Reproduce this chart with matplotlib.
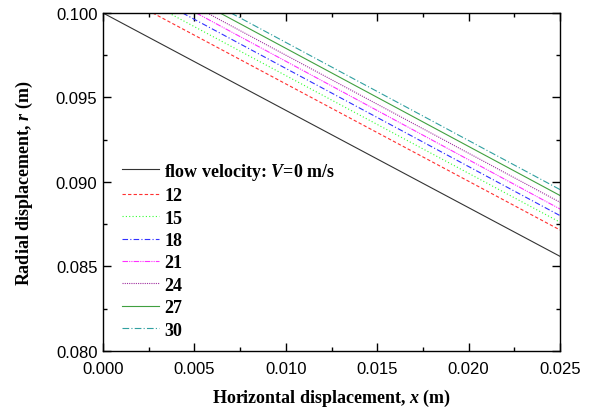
import matplotlib
matplotlib.use("Agg")
import matplotlib.pyplot as plt
from matplotlib.ticker import MultipleLocator

plt.rcParams['mathtext.fontset'] = 'custom'
plt.rcParams['mathtext.it'] = 'Liberation Serif:italic:bold'
plt.rcParams['mathtext.rm'] = 'Liberation Serif:bold'

# flow velocities (m/s)
velocities = [0, 12, 15, 18, 21, 24, 27, 30]
# x (m) where each trajectory starts at r = 0.100
x_start = [0.0, 0.00272, 0.0036, 0.00435, 0.0051, 0.0057, 0.0064, 0.0070]
# r (m) at x = 0.025
r_end = [0.0856, 0.08716, 0.08762, 0.08801, 0.0884, 0.0888, 0.0892, 0.08955]
x_end = 0.025
r_start = 0.100

colors = ['#333333', '#FF3030', '#30FF30', '#3030FF', '#FF30FF', '#A030A0', '#40A040', '#30A0A0']
styles = ['-', (0, (3, 2)), (0, (1, 2)), (0, (5, 2, 1, 2)), (0, (5, 1, 1, 1, 1, 1)),
          (0, (1, 1)), '-', (0, (6, 2, 1, 2))]

fig = plt.figure(figsize=(5.94, 4.10), dpi=100)
ax = fig.add_axes([0.1734, 0.1415, 0.7694, 0.8244])

for i, v in enumerate(velocities):
    if v == 0:
        label = r'flow velocity: $V$=0 m/s'
    else:
        label = str(v)
    ax.plot([x_start[i], x_end], [r_start, r_end[i]], color=colors[i],
            linestyle=styles[i], linewidth=0.8, label=label)

ax.set_xlim(0, 0.025)
ax.set_ylim(0.080, 0.100)
ax.xaxis.set_major_locator(MultipleLocator(0.005))
ax.xaxis.set_minor_locator(MultipleLocator(0.0025))
ax.yaxis.set_major_locator(MultipleLocator(0.005))
ax.yaxis.set_minor_locator(MultipleLocator(0.0025))
ax.xaxis.set_major_formatter(plt.FormatStrFormatter('%.3f'))
ax.yaxis.set_major_formatter(plt.FormatStrFormatter('%.3f'))
ax.tick_params(which='both', direction='in', top=True, right=True, width=1.0)
ax.tick_params(which='major', length=6, labelsize=12)
ax.tick_params(axis='x', which='major', pad=7)
ax.tick_params(axis='y', which='major', pad=4)
ax.tick_params(which='minor', length=3)
for lab in ax.get_xticklabels() + ax.get_yticklabels():
    lab.set_family('Liberation Sans')
for sp in ax.spines.values():
    sp.set_linewidth(1.0)

ax.set_xlabel(r'Horizontal displacement, $x$ (m)', family='Liberation Serif',
              fontweight='bold', fontsize=13, labelpad=8)
ax.set_ylabel(r'Radial displacement, $r$ (m)', family='Liberation Serif',
              fontweight='bold', fontsize=13, labelpad=15)

leg = ax.legend(loc='upper left', bbox_to_anchor=(0.017, 0.595), frameon=False,
                prop={'family': 'Liberation Serif', 'weight': 'bold', 'size': 13},
                handlelength=2.05, handletextpad=0.3, labelspacing=0.3,
                borderaxespad=0.2)

fig.savefig('out.png', dpi=100)
